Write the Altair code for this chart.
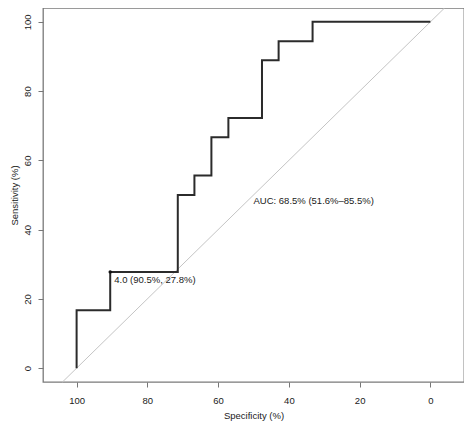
import altair as alt
import pandas as pd

# ROC curve vertices (specificity %, sensitivity %)
roc_spec = [100, 100, 90.5, 90.5, 71.4, 71.4, 66.7, 66.7, 61.9, 61.9, 57.1, 57.1,
            47.6, 47.6, 42.9, 42.9, 33.3, 33.3, 0]
roc_sens = [0, 16.7, 16.7, 27.8, 27.8, 50, 50, 55.6, 55.6, 66.7, 66.7, 72.2,
            72.2, 88.9, 88.9, 94.4, 94.4, 100, 100]

# identity (chance) line
diag_spec = [104, -4]
diag_sens = [-4, 104]

# best threshold
thr_spec = [90.5]
thr_sens = [27.8]
thr_label = ["4.0 (90.5%, 27.8%)"]

# AUC annotation
auc_spec = [50]
auc_sens = [50]
auc_label = ["AUC: 68.5% (51.6%\u201385.5%)"]

x_ticks = [0, 20, 40, 60, 80, 100]
y_ticks = [0, 20, 40, 60, 80, 100]

FONT = "Liberation Sans"
TXT = "#1a1a1a"
FS = 9.5

roc_df = pd.DataFrame({"spec": roc_spec, "sens": roc_sens, "ord": list(range(len(roc_spec)))})
diag_df = pd.DataFrame({"spec": diag_spec, "sens": diag_sens, "ord": [0, 1]})
thr_df = pd.DataFrame({"spec": thr_spec, "sens": thr_sens, "label": thr_label})
auc_df = pd.DataFrame({"spec": auc_spec, "sens": auc_sens, "label": auc_label})

xs = alt.Scale(domain=[-9.5, 109.5], reverse=True, nice=False, zero=False)
ys = alt.Scale(domain=[-4, 104], nice=False, zero=False)

x_enc = alt.X("spec:Q", scale=xs, title="Specificity (%)",
              axis=alt.Axis(values=x_ticks, grid=False, domain=False, tickSize=5,
                            tickColor="#777777", labelPadding=8, labelFontSize=FS,
                            labelFont=FONT, labelColor=TXT, titleFont=FONT,
                            titleFontSize=FS, titleFontWeight="normal", titleColor=TXT,
                            titlePadding=6))
y_enc = alt.Y("sens:Q", scale=ys, title="Sensitivity (%)",
              axis=alt.Axis(values=y_ticks, grid=False, domain=False, tickSize=5,
                            tickColor="#777777", labelAngle=270, labelAlign="center",
                            labelBaseline="bottom", labelPadding=6, labelFontSize=FS,
                            labelFont=FONT, labelColor=TXT, titleFont=FONT,
                            titleFontSize=FS, titleFontWeight="normal", titleColor=TXT,
                            titlePadding=3))

diag = alt.Chart(diag_df).mark_line(color="#c4c4c4", strokeWidth=1).encode(
    x=x_enc, y=y_enc, order="ord:Q")
roc = alt.Chart(roc_df).mark_line(color="#2b2b2b", strokeWidth=2).encode(
    x=x_enc, y=y_enc, order="ord:Q")
pt = alt.Chart(thr_df).mark_point(filled=True, color="#111111", size=12, opacity=1).encode(
    x=x_enc, y=y_enc)
thr_txt = alt.Chart(thr_df).mark_text(align="left", baseline="top", dx=4, dy=3,
                                      font=FONT, fontSize=FS, color=TXT).encode(
    x=x_enc, y=y_enc, text="label:N")
auc_txt = alt.Chart(auc_df).mark_text(align="left", baseline="top", dy=1,
                                      font=FONT, fontSize=FS, color=TXT).encode(
    x=x_enc, y=y_enc, text="label:N")

chart = alt.layer(diag, roc, pt, thr_txt, auc_txt).properties(
    width=421, height=374,
    autosize=alt.AutoSizeParams(type="none"),
    padding={"left": 35, "top": 0, "right": 0, "bottom": 40},
).configure_view(stroke="#7a7a7a", strokeWidth=1.3)

chart.save("out.html", embed_options={"renderer": "svg", "actions": False})
